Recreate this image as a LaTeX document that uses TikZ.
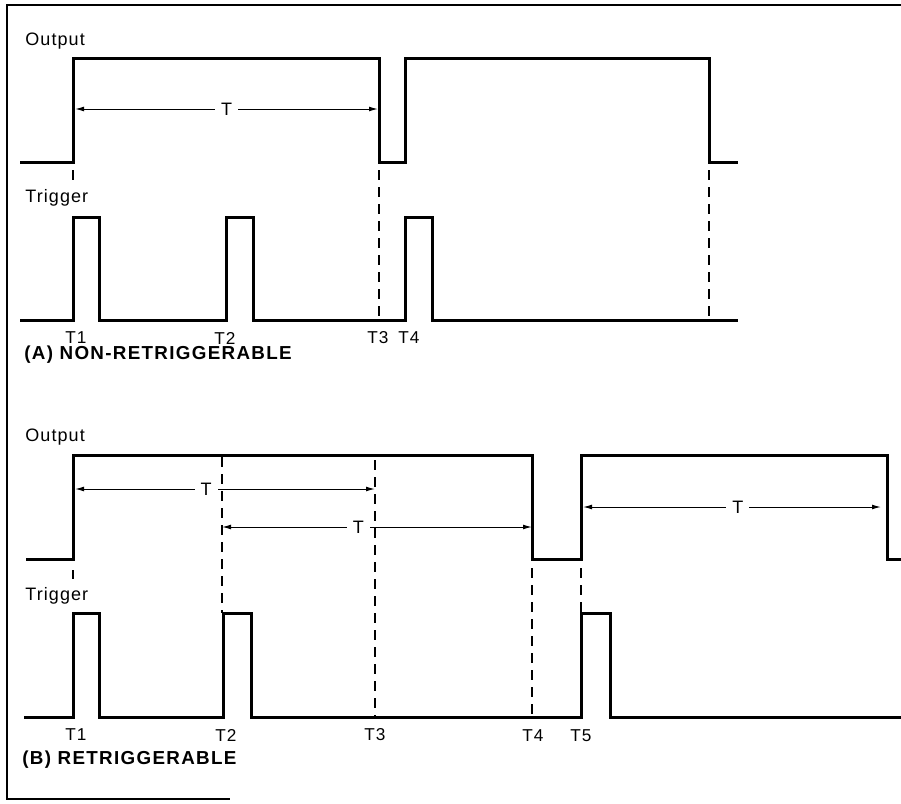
\documentclass[tikz,border=0pt]{standalone}
\usepackage{fontspec}
\setmainfont{Liberation Sans}
\usetikzlibrary{arrows.meta,positioning}
\tikzset{
  wave/.style={line width=1.5pt, line join=miter},
  guide/.style={line width=0.7pt, dash pattern=on 5pt off 3.5pt},
  frame/.style={line width=1pt},
  span/.style={{Latex[length=4.5pt,width=2.4pt]}-{Latex[length=4.5pt,width=2.4pt]}, line width=0.5pt},
  tlbl/.style={fill=white, inner sep=3pt, font=\fontsize{9}{11}\selectfont\addfontfeature{LetterSpace=5}},
  sig/.style={anchor=west, inner sep=0pt, font=\fontsize{9}{11}\selectfont\addfontfeature{LetterSpace=6}},
  tick/.style={inner sep=0pt, font=\fontsize{8.6}{10}\selectfont\addfontfeature{LetterSpace=6}},
  capt/.style={anchor=west, inner sep=0pt, font=\fontsize{9.4}{11}\selectfont\bfseries\addfontfeature{LetterSpace=7}}
}

\begin{document}
\begin{tikzpicture}[x=0.5pt, y=-0.5pt]
    \useasboundingbox (0,0) rectangle (901,804);
    % frame
    \draw[frame] (6,5) -- (901,5);
    \draw[frame] (7,5) -- (7,800);
    \draw[frame] (7,799) -- (230,799);

    % (A) non-retriggerable
    \node[sig] (outA) at (25,41) {Output};
    \node[sig] (trgA) at (25,198) {Trigger};
    \draw[wave] (20,162) -- (73,162) -- (73,58) -- (379,58) -- (379,162) -- (405,162)
      -- (405,58) -- (709,58) -- (709,162) -- (738,162);
    \draw[wave] (20,320) -- (73,320) -- (73,217) -- (99,217) -- (99,320) -- (226,320)
      -- (226,217) -- (253,217) -- (253,320) -- (405,320) -- (405,217) -- (432,217)
      -- (432,320) -- (738,320);
    \draw[guide] (73,170) -- (73,181);
    \draw[guide] (379,170) -- (379,320);
    \draw[guide] (709,170) -- (709,320);
    \coordinate (a0) at (75,109);
    \coordinate (a1) at (378,109);
    \draw[span] (a0) -- node[tlbl, pos=0.5] (tA) {T} (a1);
    \node[tick] (a-t1) at (76,338) {T1};
    \node[tick] (a-t2) at (225,338) {T2};
    \node[tick] (a-t3) at (378,338) {T3};
    \node[tick] (a-t4) at (409,338) {T4};
    \node[capt] (captA) at (24,355) {(A) NON-RETRIGGERABLE};

    % (B) retriggerable
    \node[sig] (outB) at (25,437) {Output};
    \node[sig] (trgB) at (25,596) {Trigger};
    \draw[wave] (26,559) -- (73,559) -- (73,455) -- (532,455) -- (532,559) -- (581,559)
      -- (581,455) -- (887,455) -- (887,559) -- (901,559);
    \draw[wave] (24,717) -- (73,717) -- (73,613) -- (99,613) -- (99,717) -- (223,717)
      -- (223,613) -- (251,613) -- (251,717) -- (581,717) -- (581,613) -- (610,613)
      -- (610,717) -- (901,717);
    \draw[guide] (73,570) -- (73,579);
    \draw[guide] (222,457) -- (222,613);
    \draw[guide] (375,460) -- (375,717);
    \draw[guide] (532,568) -- (532,717);
    \draw[guide] (581,568) -- (581,613);
    \coordinate (b0) at (75,489);
    \coordinate (b1) at (375,489);
    \coordinate (b2) at (222,527);
    \coordinate (b3) at (532,527);
    \coordinate (b4) at (583,507);
    \coordinate (b5) at (881,507);
    \draw[span] (b0) -- node[tlbl, pos=0.437] (tB1) {T} (b1);
    \draw[span] (b2) -- node[tlbl, pos=0.44] (tB2) {T} (b3);
    \draw[span] (b4) -- node[tlbl, pos=0.52] (tB3) {T} (b5);
    \node[tick] (b-t1) at (76,735) {T1};
    \node[tick] (b-t2) at (226,735) {T2};
    \node[tick] (b-t3) at (375,735) {T3};
    \node[tick] (b-t4) at (533,736) {T4};
    \node[tick] (b-t5) at (581,736) {T5};
    \node[capt] (captB) at (22,760) {(B) RETRIGGERABLE};
  \end{tikzpicture}
\end{document}
